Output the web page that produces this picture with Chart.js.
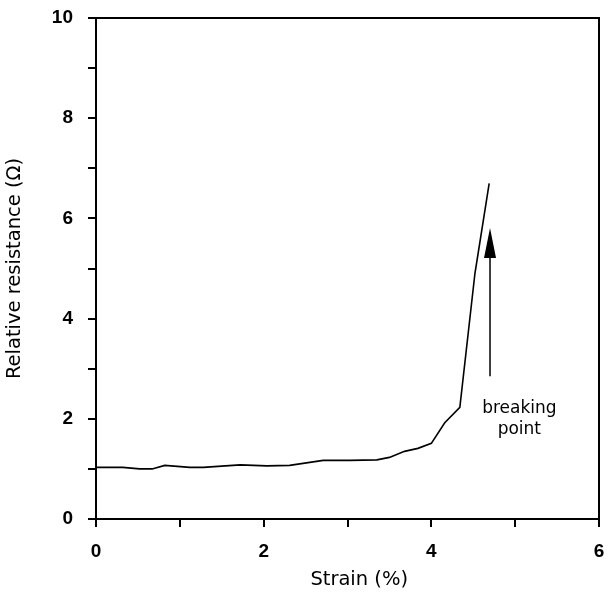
<!DOCTYPE html>
<html>
<head>
<meta charset="utf-8">
<script src="https://cdn.jsdelivr.net/npm/chart.js@4/dist/chart.umd.min.js"></script>
<style>
  html, body { margin: 0; padding: 0; background: #fff; }
  #wrap { width: 608px; height: 594px; }
</style>
</head>
<body>
<div id="wrap"><canvas id="chart" width="608" height="594"></canvas></div>
<script>
// strain (%) vs relative resistance
const strain = [0, 0.32, 0.52, 0.67, 0.82, 1.12, 1.28, 1.72, 2.04, 2.31, 2.71, 3.03, 3.35, 3.5, 3.68, 3.84, 4.0, 4.16, 4.34, 4.52, 4.69];
const resistance = [1.03, 1.03, 1.0, 1.0, 1.07, 1.03, 1.03, 1.08, 1.06, 1.07, 1.17, 1.17, 1.18, 1.23, 1.35, 1.41, 1.51, 1.92, 2.23, 4.9, 6.7];

const xTicks = [0, 2, 4, 6];
const yTicks = [0, 2, 4, 6, 8, 10];
const xTitle = 'Strain (%)';
const yTitle = 'Relative resistance (Ω)';

// annotation (data coords)
const arrowX = 4.70;
const arrowFrom = 2.85;
const arrowTo = 5.81;
const noteX = 5.05;
const noteLines = ['breaking', 'point'];
const noteY = [2.12, 1.70];
const xTitleAt = 3.14;

const TICK_FONT = '"Liberation Sans", Arial, sans-serif';
const TEXT_FONT = '"DejaVu Sans", sans-serif';

const boxAndArrow = {
  id: 'boxAndArrow',
  afterDraw(chart) {
    const { ctx, chartArea: a, scales: { x, y } } = chart;
    ctx.save();
    // top + right frame
    ctx.strokeStyle = '#000';
    ctx.lineWidth = 2;
    ctx.beginPath();
    ctx.moveTo(a.left - 1, a.top);
    ctx.lineTo(a.right, a.top);
    ctx.lineTo(a.right, a.bottom);
    ctx.stroke();

    // arrow
    const ax = x.getPixelForValue(arrowX);
    const y0 = y.getPixelForValue(arrowFrom);
    const y1 = y.getPixelForValue(arrowTo);
    ctx.lineWidth = 1.5;
    ctx.beginPath();
    ctx.moveTo(ax, y0);
    ctx.lineTo(ax, y1 + 20);
    ctx.stroke();
    ctx.fillStyle = '#000';
    ctx.beginPath();
    ctx.moveTo(ax, y1);
    ctx.lineTo(ax - 6, y1 + 30);
    ctx.lineTo(ax + 6, y1 + 30);
    ctx.closePath();
    ctx.fill();

    ctx.font = '17px ' + TEXT_FONT;
    ctx.textAlign = 'center';
    ctx.textBaseline = 'alphabetic';
    noteLines.forEach((t, i) => {
      ctx.fillText(t, x.getPixelForValue(noteX), y.getPixelForValue(noteY[i]));
    });

    // x axis title
    ctx.font = '19.5px ' + TEXT_FONT;
    ctx.fillText(xTitle, x.getPixelForValue(xTitleAt), a.bottom + 66);
    ctx.restore();
  }
};

new Chart(document.getElementById('chart'), {
  type: 'line',
  data: {
    datasets: [{
      data: strain.map((s, i) => ({ x: s, y: resistance[i] })),
      borderColor: '#000',
      borderWidth: 1.6,
      pointRadius: 0,
      tension: 0,
      fill: false
    }]
  },
  options: {
    responsive: false,
    animation: false,
    layout: { padding: { left: 0, right: 9, top: 18, bottom: 0 } },
    plugins: { legend: { display: false }, tooltip: { enabled: false } },
    scales: {
      x: {
        type: 'linear',
        min: 0, max: 6,
        afterFit(s) { s.height = 75; s.paddingLeft = 0; s.paddingRight = 0; },
        afterBuildTicks(s) { s.ticks = [0, 1, 2, 3, 4, 5, 6].map(v => ({ value: v })); },
        border: { color: '#000', width: 2 },
        grid: { drawOnChartArea: false, color: '#000', lineWidth: 2, tickLength: 8, tickColor: '#000' },
        ticks: {
          autoSkip: false, maxRotation: 0, padding: 13, color: '#000',
          font: { family: TICK_FONT, size: 19, weight: 'bold' },
          callback: v => xTicks.includes(v) ? String(v) : ''
        },
        title: { display: false }
      },
      y: {
        type: 'linear',
        min: 0, max: 10,
        afterFit(s) { s.width = 96; s.paddingTop = 0; s.paddingBottom = 0; },
        afterBuildTicks(s) { s.ticks = [0, 1, 2, 3, 4, 5, 6, 7, 8, 9, 10].map(v => ({ value: v })); },
        border: { color: '#000', width: 2 },
        grid: { drawOnChartArea: false, color: '#000', lineWidth: 2, tickLength: 8, tickColor: '#000' },
        ticks: {
          autoSkip: false, padding: 15, color: '#000',
          font: { family: TICK_FONT, size: 19, weight: 'bold' },
          callback: v => yTicks.includes(v) ? String(v) : ''
        },
        title: {
          display: true, text: yTitle, color: '#000',
          font: { family: TEXT_FONT, size: 19.5 }, padding: { top: 3, bottom: 0 }
        }
      }
    }
  },
  plugins: [boxAndArrow]
});
</script>
</body>
</html>
